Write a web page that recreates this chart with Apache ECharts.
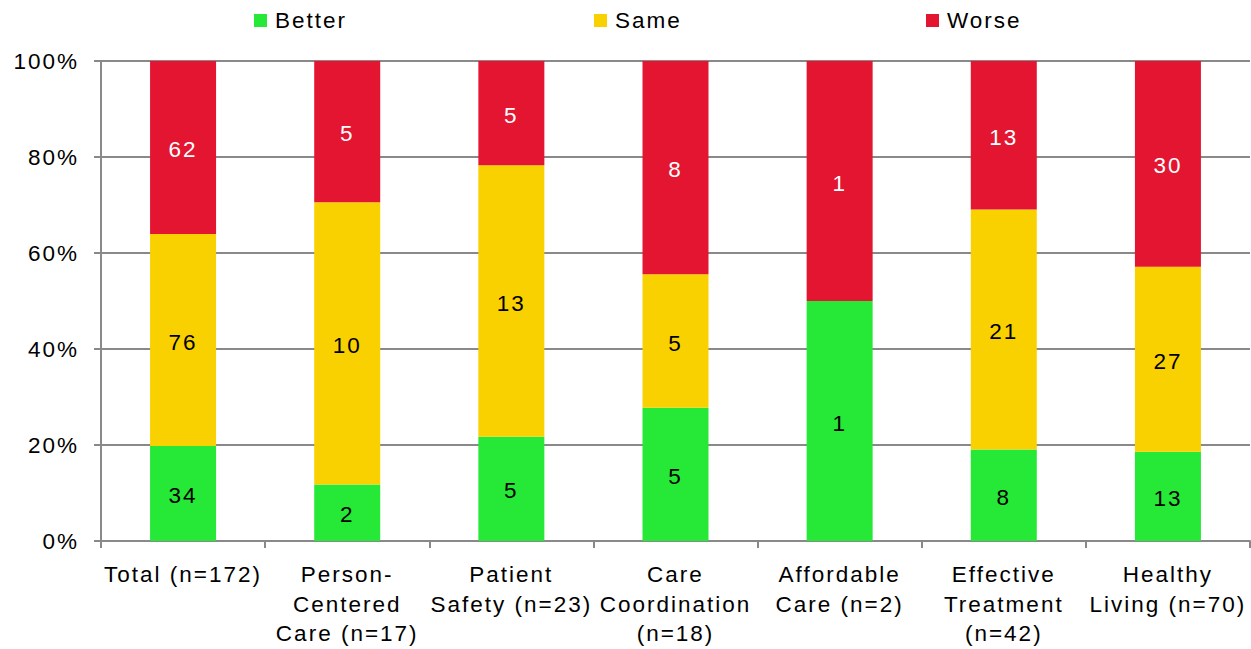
<!DOCTYPE html>
<html>
<head>
<meta charset="utf-8">
<script src="https://cdn.jsdelivr.net/npm/echarts@6/dist/echarts.min.js"></script>
<style>
html,body{margin:0;padding:0;background:#fff;}
#chart{width:1251px;height:649px;}
#chart text{letter-spacing:2px;}
</style>
</head>
<body>
<div id="chart"></div>
<script>
const categories = ['Total (n=172)', 'Person-\nCentered\nCare (n=17)', 'Patient\nSafety (n=23)', 'Care\nCoordination\n(n=18)', 'Affordable\nCare (n=2)', 'Effective\nTreatment\n(n=42)', 'Healthy\nLiving (n=70)'];
const better = [34, 2, 5, 5, 1, 8, 13];
const same = [76, 10, 13, 5, 0, 21, 27];
const worse = [62, 5, 5, 8, 1, 13, 30];
const seriesNames = ['Better', 'Same', 'Worse'];
const colors = ['#26E836', '#F9D100', '#E41530'];

const totals = categories.map((c, i) => better[i] + same[i] + worse[i]);
const counts = [better, same, worse];

const FONT = 'Liberation Sans, Arial, sans-serif';
const GRAY = '#898989';

const chart = echarts.init(document.getElementById('chart'), null, {renderer: 'svg'});

const legendLefts = [249, 589, 921];
const legends = seriesNames.map((n, k) => ({
  data: [n],
  left: legendLefts[k],
  top: 4,
  itemWidth: 13,
  itemHeight: 13,
  icon: 'rect',
  textStyle: {fontFamily: FONT, fontSize: 22.5, color: '#000', lineHeight: 22, padding: [0, 0, 0, 3]}
}));

const series = seriesNames.map((n, k) => ({
  name: n,
  type: 'bar',
  stack: 'all',
  barWidth: 66,
  itemStyle: {color: colors[k]},
  data: counts[k].map((v, i) => ({value: v / totals[i] * 100, count: v})),
  label: {
    show: true,
    position: 'inside',
    offset: [0, 2],
    fontFamily: FONT,
    fontSize: 22.5,
    color: k === 2 ? '#fff' : '#000',
    formatter: p => (p.data.count > 0 ? String(p.data.count) : '')
  }
}));

chart.setOption({
  animation: false,
  color: colors,
  legend: legends,
  grid: {left: 101, right: 1, top: 61, bottom: 108, containLabel: false},
  xAxis: {
    type: 'category',
    data: categories,
    axisLine: {show: true, lineStyle: {color: GRAY, width: 2}},
    axisTick: {show: true, length: 7, lineStyle: {color: GRAY, width: 2}},
    axisLabel: {interval: 0, fontFamily: FONT, fontSize: 22.5, color: '#000', lineHeight: 29.5, margin: 19}
  },
  yAxis: {
    type: 'value',
    min: 0, max: 100, interval: 20,
    axisLine: {show: true, lineStyle: {color: GRAY, width: 2}},
    axisTick: {show: true, length: 7, lineStyle: {color: GRAY, width: 2}},
    axisLabel: {formatter: '{value}%', fontFamily: FONT, fontSize: 22.5, color: '#000', margin: 22},
    splitLine: {show: true, lineStyle: {color: GRAY, width: 2}}
  },
  series: series
});
</script>
</body>
</html>
